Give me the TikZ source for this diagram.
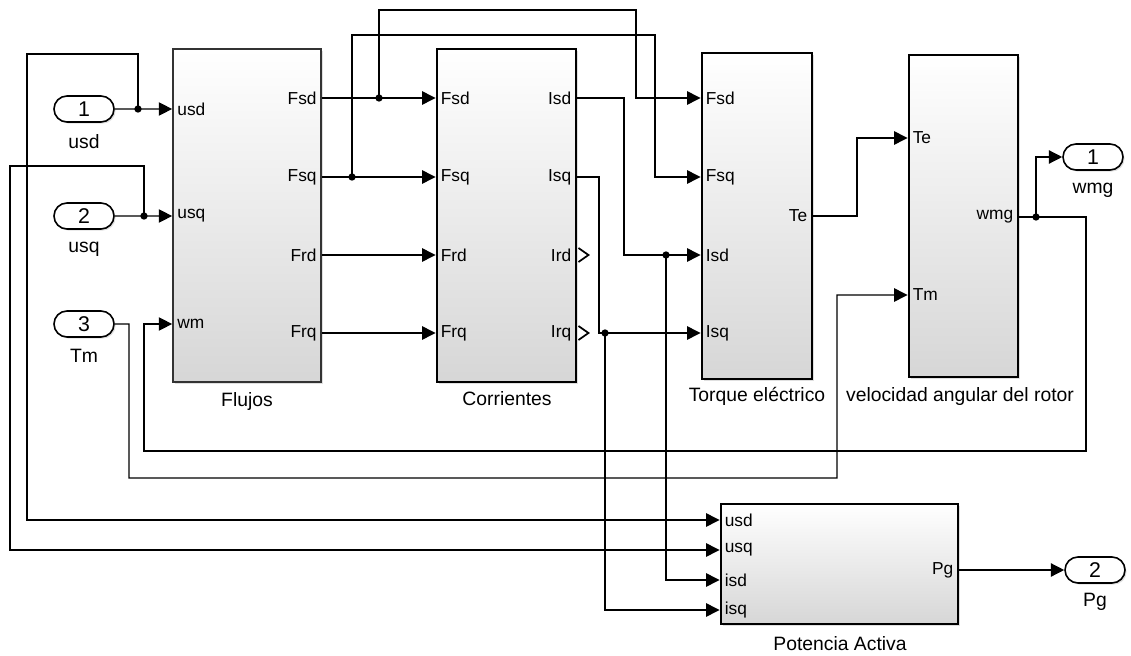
\documentclass[tikz,border=0pt]{standalone}
\usepackage{fontspec}
\setmainfont{Liberation Sans}
\usetikzlibrary{arrows.meta,shapes.misc,shadows,calc}
\begin{document}
\begin{tikzpicture}[x=0.75pt,y=-0.75pt,
  blk/.style={draw=black, line width=2.2pt, top color=white, bottom color=black!16,
    drop shadow={shadow xshift=1.5pt,shadow yshift=-1.5pt,opacity=0.25}, inner sep=0pt},
  port/.style={draw=black, rounded rectangle, line width=1.2pt, fill=white,
    minimum width=45pt, minimum height=19.5pt, inner sep=0pt,
    font=\fontsize{16}{16}\selectfont,
    drop shadow={shadow xshift=1.2pt,shadow yshift=-1.2pt,opacity=0.25}},
  plbl/.style={font=\fontsize{13}{13}\selectfont, inner sep=0pt},
  captxt/.style={font=\fontsize{14.5}{14.5}\selectfont, inner sep=0pt},
  sig/.style={line width=1pt},
  arr/.style={sig,-{Triangle[length=10pt,width=10pt]}},
  jdot/.style={circle, fill=black, inner sep=0pt, minimum size=5.5pt}
]
\useasboundingbox (0,0) rectangle (1131,656);

% blocks
\node[blk, line width=1.3pt, draw=black!80, minimum width=111pt, minimum height=249.75pt] (flujos) at (247,215.5) {};
\node[blk, minimum width=104.25pt, minimum height=249.75pt] (corr) at (506.5,215.5) {};
\node[blk, minimum width=82.5pt, minimum height=244.5pt] (torq) at (757,216) {};
\node[blk, minimum width=81.75pt, minimum height=241.5pt] (velo) at (963.5,216) {};
\node[blk, minimum width=177.75pt, minimum height=90pt] (pot) at (839.5,564) {};

% captions
\node[captxt] (capfl) at (247,401) {Flujos};
\node[captxt] (capco) at (507,399) {Corrientes};
\node[captxt] (capto) at (757,396) {Torque eléctrico};
\node[captxt] (capve) at (960,396) {velocidad angular del rotor};
\node[captxt] (cappo) at (840,644) {Potencia Activa};

% inports / outports
\node[port] (in1) at (84,109) {1};
\node[port] (in2) at (84,216) {2};
\node[port] (in3) at (84,324) {3};
\node[port] (out1) at (1093,157) {1};
\node[port] (out2) at (1095,570) {2};
\node[captxt] (lin1) at (84,142) {usd};
\node[captxt] (lin2) at (84,249) {usq};
\node[captxt] (lin3) at (84,356) {Tm};
\node[captxt] (lout1) at (1093,190) {wmg};
\node[captxt] (lout2) at (1095,602) {Pg};

% port coordinates
\coordinate (fl-i1) at (flujos.west |- 0,109);
\coordinate (fl-i2) at (flujos.west |- 0,216);
\coordinate (fl-i3) at (flujos.west |- 0,324);
\coordinate (fl-o1) at (flujos.east |- 0,98);
\coordinate (fl-o2) at (flujos.east |- 0,177);
\coordinate (fl-o3) at (flujos.east |- 0,255);
\coordinate (fl-o4) at (flujos.east |- 0,333);
\coordinate (co-i1) at (corr.west |- 0,98);
\coordinate (co-i2) at (corr.west |- 0,177);
\coordinate (co-i3) at (corr.west |- 0,255);
\coordinate (co-i4) at (corr.west |- 0,333);
\coordinate (co-o1) at (corr.east |- 0,98);
\coordinate (co-o2) at (corr.east |- 0,177);
\coordinate (co-o3) at (corr.east |- 0,255);
\coordinate (co-o4) at (corr.east |- 0,333);
\coordinate (to-i1) at (torq.west |- 0,98);
\coordinate (to-i2) at (torq.west |- 0,177);
\coordinate (to-i3) at (torq.west |- 0,255);
\coordinate (to-i4) at (torq.west |- 0,333);
\coordinate (to-o1) at (torq.east |- 0,216);
\coordinate (ve-i1) at (velo.west |- 0,138);
\coordinate (ve-i2) at (velo.west |- 0,295);
\coordinate (ve-o1) at (velo.east |- 0,217);
\coordinate (po-i1) at (pot.west |- 0,520);
\coordinate (po-i2) at (pot.west |- 0,550);
\coordinate (po-i3) at (pot.west |- 0,580);
\coordinate (po-i4) at (pot.west |- 0,610);
\coordinate (po-o1) at (pot.east |- 0,570);

% port labels
\node[plbl, anchor=west] (t1) at ($(fl-i1)+(5,0)$) {usd};
\node[plbl, anchor=west] (t2) at ($(fl-i2)+(5,0)$) {usq};
\node[plbl, anchor=west] (t3) at ($(fl-i3)+(5,0)$) {wm};
\node[plbl, anchor=east] (t4) at ($(fl-o1)+(-5,0)$) {Fsd};
\node[plbl, anchor=east] (t5) at ($(fl-o2)+(-5,0)$) {Fsq};
\node[plbl, anchor=east] (t6) at ($(fl-o3)+(-5,0)$) {Frd};
\node[plbl, anchor=east] (t7) at ($(fl-o4)+(-5,0)$) {Frq};
\node[plbl, anchor=west] (t8) at ($(co-i1)+(5,0)$) {Fsd};
\node[plbl, anchor=west] (t9) at ($(co-i2)+(5,0)$) {Fsq};
\node[plbl, anchor=west] (t10) at ($(co-i3)+(5,0)$) {Frd};
\node[plbl, anchor=west] (t11) at ($(co-i4)+(5,0)$) {Frq};
\node[plbl, anchor=east] (t12) at ($(co-o1)+(-6,0)$) {Isd};
\node[plbl, anchor=east] (t13) at ($(co-o2)+(-6,0)$) {Isq};
\node[plbl, anchor=east] (t14) at ($(co-o3)+(-6,0)$) {Ird};
\node[plbl, anchor=east] (t15) at ($(co-o4)+(-6,0)$) {Irq};
\node[plbl, anchor=west] (t16) at ($(to-i1)+(5,0)$) {Fsd};
\node[plbl, anchor=west] (t17) at ($(to-i2)+(5,0)$) {Fsq};
\node[plbl, anchor=west] (t18) at ($(to-i3)+(5,0)$) {Isd};
\node[plbl, anchor=west] (t19) at ($(to-i4)+(5,0)$) {Isq};
\node[plbl, anchor=east] (t20) at ($(to-o1)+(-6,0)$) {Te};
\node[plbl, anchor=west] (t21) at ($(ve-i1)+(5,0)$) {Te};
\node[plbl, anchor=west] (t22) at ($(ve-i2)+(5,0)$) {Tm};
\node[plbl, anchor=east] (t23) at ($(ve-o1)+(-6,0)$) {wmg};
\node[plbl, anchor=west] (t24) at ($(po-i1)+(5,0)$) {usd};
\node[plbl, anchor=west] (t25) at ($(po-i2)+(5,0)$) {usq};
\node[plbl, anchor=west] (t26) at ($(po-i3)+(5,0)$) {isd};
\node[plbl, anchor=west] (t27) at ($(po-i4)+(5,0)$) {isq};
\node[plbl, anchor=east] (t28) at ($(po-o1)+(-6,0)$) {Pg};

% unconnected outputs
\draw[line width=1.3pt, line join=miter] ($(co-o3)+(1,-7)$) -- ($(co-o3)+(11,0)$) -- ($(co-o3)+(1,7)$);
\draw[line width=1.3pt, line join=miter] ($(co-o4)+(1,-7)$) -- ($(co-o4)+(11,0)$) -- ($(co-o4)+(1,7)$);

% junctions
\node[jdot] (j1) at (138,109) {};
\node[jdot] (j2) at (144,216) {};
\node[jdot] (j3) at (1036,217) {};
\node[jdot] (j4) at (379,98) {};
\node[jdot] (j5) at (352,177) {};
\node[jdot] (j6) at (666,255) {};
\node[jdot] (j7) at (605,333) {};

% wires
\draw[arr] (in1) -- (fl-i1);
\draw[arr] (j1.center) -- (138,54) -- (27,54) -- (27,520) -- (po-i1);
\draw[arr] (in2) -- (fl-i2);
\draw[arr] (j2.center) -- (144,166) -- (10,166) -- (10,550) -- (po-i2);
\draw[arr] (in3) -- (129,324) -- (129,478) -- (837,478) -- (837,295) -- (ve-i2);
\draw[arr] (ve-o1) -- (j3.center) |- (out1);
\draw[arr] (j3.center) -- (1086,217) -- (1086,451) -- (144,451) -- (144,324) -- (fl-i3);
\draw[arr] (fl-o1) -- (co-i1);
\draw[arr] (j4.center) -- (379,10) -- (636,10) -- (636,98) -- (to-i1);
\draw[arr] (fl-o2) -- (co-i2);
\draw[arr] (j5.center) -- (352,35) -- (655,35) -- (655,177) -- (to-i2);
\draw[arr] (fl-o3) -- (co-i3);
\draw[arr] (fl-o4) -- (co-i4);
\draw[arr] (co-o1) -- (624,98) -- (624,255) -- (to-i3);
\draw[arr] (j6.center) -- (666,580) -- (po-i3);
\draw[arr] (co-o2) -- (599,177) -- (599,333) -- (to-i4);
\draw[arr] (j7.center) -- (605,610) -- (po-i4);
\draw[arr] (to-o1) -- (857,216) -- (857,138) -- (ve-i1);
\draw[arr] (po-o1) -- (out2);
\end{tikzpicture}
\end{document}
